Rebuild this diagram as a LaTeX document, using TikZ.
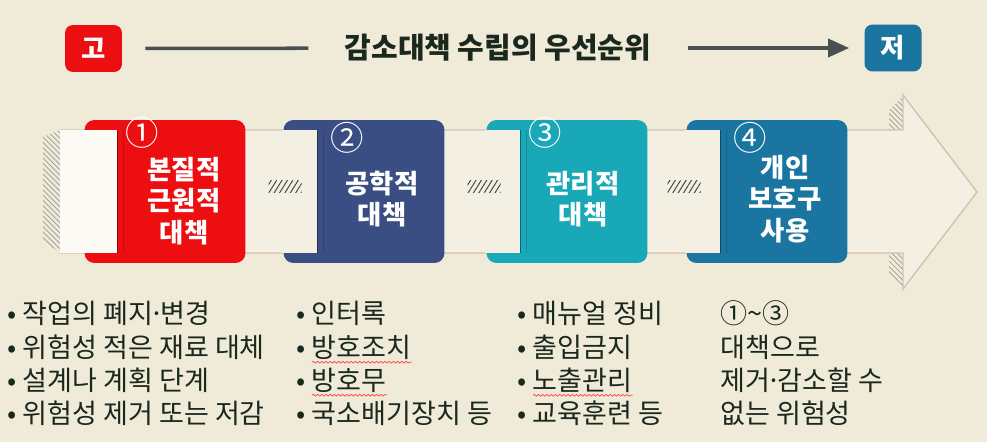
\documentclass[tikz,border=0pt]{standalone}
\usepackage{fontspec}
\setmainfont{Noto Sans CJK KR}
\usepackage{xcolor}
\usetikzlibrary{arrows.meta,patterns,patterns.meta,decorations.pathmorphing}

\definecolor{bg}{RGB}{239,235,216}
\definecolor{band}{RGB}{243,239,226}
\definecolor{padw}{RGB}{251,250,244}
\definecolor{edge}{RGB}{214,192,176}
\definecolor{ink}{RGB}{27,40,30}
\definecolor{barcol}{RGB}{72,80,80}
\definecolor{redc}{RGB}{236,14,16}
\definecolor{navyc}{RGB}{58,78,132}
\definecolor{tealc}{RGB}{24,168,184}
\definecolor{bluec}{RGB}{26,118,160}

\newcommand{\middot}{\kern-0.14em·\kern-0.14em}

\begin{document}
\begin{tikzpicture}[x=0.02cm, y=-0.02cm,
  box/.style={rounded corners=0.2cm, minimum width=3.22cm, minimum height=2.86cm, inner sep=0pt},
  pad/.style={fill=band, minimum width=0.71cm, minimum height=2.46cm, inner sep=0pt},
  fold/.style={line width=0.7pt},
  boxtext/.style={text=white, font=\bfseries\fontsize{15}{18}\selectfont, align=center},
  num/.style={text=white, font=\fontsize{19}{19}\selectfont, inner sep=0pt},
  tag/.style={rounded corners=0.16cm, text=white, font=\bfseries\fontsize{15}{15}\selectfont, minimum width=1.14cm, minimum height=0.94cm},
  item/.style={anchor=west, inner sep=0pt, text=ink, font=\fontsize{15.4}{15.4}\selectfont},
  bar/.style={line width=2pt, draw=barcol},
  hatch/.style={pattern={Lines[angle=58, distance=2.6pt, line width=0.55pt]}, pattern color=ink!85, minimum width=0.66cm, minimum height=0.24cm, inner sep=0pt},
  shade/.style={pattern=north west lines, pattern color=black!40},
  squig/.style={draw=red!75, line width=0.4pt, decorate, decoration={snake, amplitude=0.5pt, segment length=2.4pt}}
]
\useasboundingbox[fill=bg] (0,0) rectangle (987,442);

% heading
\node[tag, fill=redc] (go) at (93.5,48.5) {고};
\node[tag, fill=bluec] (jeo) at (893,48) {저};
\node[text=ink, font=\bfseries\fontsize{16.5}{16.5}\selectfont] (title) at (498,48) {감소대책 수립의 우선순위};
\draw[bar, shorten <=0.46cm, shorten >=0.6cm] (go) -- (title);
\draw[bar, -{Triangle[length=0.42cm,width=0.36cm]}, shorten <=0.6cm, shorten >=0.3cm] (title) -- (jeo);

% big arrow band
\fill[shade] (43,137) -- (60,130) -- (60,253) -- (43,240) -- cycle;
\fill[shade] (889,110) -- (903,96) -- (903,130) -- (889,130) -- cycle;
\fill[shade] (889,253) -- (903,253) -- (903,288) -- (889,274) -- cycle;
\fill[band] (60,130) -- (903,130) -- (903,95) -- (977,192) -- (903,289) -- (903,253) -- (60,253) -- cycle;
\draw[edge, line width=0.8pt] (60,130) -- (903,130) -- (903,95) -- (977,192) -- (903,289) -- (903,253) -- (60,253);

% steps
\node[box, fill=redc] (box1) at (165,191.5) {};
\node[box, fill=navyc] (box2) at (364,191.5) {};
\node[box, fill=tealc] (box3) at (567,191.5) {};
\node[box, fill=bluec] (box4) at (767,191.5) {};

\node[pad, fill=padw, minimum width=1.14cm] (pad1) at (88.5,191.5) {};
\node[pad] (pad2) at (299.25,191.5) {};
\node[pad] (pad3) at (502.25,191.5) {};
\node[pad] (pad4) at (702.25,191.5) {};

\draw[fold, redc!60!black] (pad1.north east) -- (pad1.south east);
\draw[fold, navyc!60!black] (pad2.north east) -- (pad2.south east);
\draw[fold, tealc!60!black] (pad3.north east) -- (pad3.south east);
\draw[fold, bluec!60!black] (pad4.north east) -- (pad4.south east);
\draw[fold, redc!75!black, opacity=.6] ([xshift=0.12cm]pad1.north east) -- ([xshift=0.12cm]pad1.south east);
\draw[fold, navyc!75!black, opacity=.6] ([xshift=0.12cm]pad2.north east) -- ([xshift=0.12cm]pad2.south east);
\draw[fold, tealc!75!black, opacity=.6] ([xshift=0.12cm]pad3.north east) -- ([xshift=0.12cm]pad3.south east);
\draw[fold, bluec!75!black, opacity=.6] ([xshift=0.12cm]pad4.north east) -- ([xshift=0.12cm]pad4.south east);

\node[hatch] (gap12) at (285,187) {};
\node[hatch] (gap23) at (484,187) {};
\node[hatch] (gap34) at (684,187) {};

\node[num] (n1) at (142,133) {①};
\node[num] (n2) at (347,138) {②};
\node[num] (n3) at (545,133) {③};
\node[num] (n4) at (750,138) {④};

\node[boxtext] (lbl1) at (184,201) {본질적\\근원적\\대책};
\node[boxtext] (lbl2) at (382,199) {공학적\\대책};
\node[boxtext] (lbl3) at (583,199) {관리적\\대책};
\node[boxtext] (lbl4) at (785,199) {개인\\보호구\\사용};

% lists
\node[item] (c11) at (7,313) {• 작업의 폐지\middot 변경};
\node[item] (c12) at (7,347) {• 위험성 적은 재료 대체};
\node[item] (c13) at (7,380) {• 설계나 계획 단계};
\node[item] (c14) at (7,413) {• 위험성 제거 또는 저감};

\node[item] (c21) at (296,313) {• 인터록};
\node[item] (c22) at (296,347) {• 방호조치};
\node[item] (c23) at (296,380) {• 방호무};
\node[item] (c24) at (296,413) {• 국소배기장치 등};

\node[item] (c31) at (517,313) {• 매뉴얼 정비};
\node[item] (c32) at (517,347) {• 출입금지};
\node[item] (c33) at (517,380) {• 노출관리};
\node[item] (c34) at (517,413) {• 교육훈련 등};

\node[item] (c41) at (720,313) {①\textasciitilde③};
\node[item] (c42) at (720,347) {대책으로};
\node[item] (c43) at (720,380) {제거\middot 감소할 수};
\node[item] (c44) at (720,413) {없는 위험성};

\draw[squig] ([xshift=0.32cm,yshift=-1.5pt]c22.south west) -- ([yshift=-1.5pt]c22.south east);
\draw[squig] ([xshift=0.32cm,yshift=-1.5pt]c23.south west) -- ([yshift=-1.5pt]c23.south east);
\draw[squig] ([xshift=0.32cm,yshift=-1.5pt]c33.south west) -- ([yshift=-1.5pt]c33.south east);

\end{tikzpicture}
\end{document}
